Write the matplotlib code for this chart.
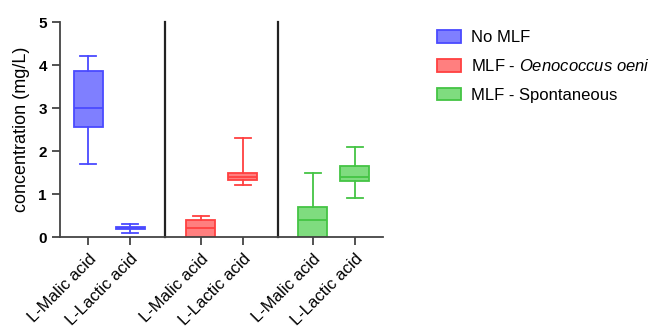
import matplotlib
matplotlib.use("Agg")
import matplotlib.pyplot as plt
from matplotlib.patches import Patch

plt.rcParams['font.family'] = ['Liberation Sans', 'DejaVu Sans']
plt.rcParams['mathtext.fontset'] = 'custom'
plt.rcParams['mathtext.rm'] = 'Liberation Sans'
plt.rcParams['mathtext.it'] = 'Liberation Sans:italic'

categories = ["L-Malic acid", "L-Lactic acid"] * 3
groups = ["No MLF", "MLF - $\\it{Oenococcus\\ oeni}$", "MLF - Spontaneous"]
# whislo, q1, med, q3, whishi
stats_vals = [
    [1.7, 2.55, 3.0, 3.85, 4.2],
    [0.1, 0.18, 0.2, 0.24, 0.3],
    [0.0, 0.0, 0.2, 0.4, 0.5],
    [1.2, 1.32, 1.4, 1.5, 2.3],
    [0.0, 0.0, 0.4, 0.7, 1.5],
    [0.9, 1.3, 1.4, 1.65, 2.1],
]
positions = [0, 1, 2.67, 3.67, 5.33, 6.33]
separators = [1.835, 4.5]
face_colors = ["#7f7fff", "#ff7f7f", "#7fdc7f"]
edge_colors = ["#4a4aff", "#ff4040", "#44c444"]

fig = plt.figure(figsize=(6.6, 3.29), dpi=100)
ax = fig.add_axes([0.091, 0.2796, 0.489, 0.6534])

for i, (s, p) in enumerate(zip(stats_vals, positions)):
    g = i // 2
    st = dict(whislo=s[0], q1=s[1], med=s[2], q3=s[3], whishi=s[4], fliers=[])
    ec = edge_colors[g]
    ax.bxp([st], positions=[p], widths=0.68, patch_artist=True, showfliers=False,
           boxprops=dict(facecolor=face_colors[g], edgecolor=ec, linewidth=1.3),
           medianprops=dict(color=ec, linewidth=1.3),
           whiskerprops=dict(color=ec, linewidth=1.3),
           capprops=dict(color=ec, linewidth=1.3), capwidths=0.38)

for x in separators:
    ax.plot([x, x], [0, 5], color="#222222", linewidth=1.6, clip_on=False)

ax.set_xlim(-0.67, 7.0)
ax.set_ylim(0, 5)
ax.set_yticks([0, 1, 2, 3, 4, 5])
ax.set_yticklabels(["0", "1", "2", "3", "4", "5"], fontweight="bold", fontsize=11)
ax.set_xticks(positions)
ax.set_xticklabels(categories, rotation=45, ha="right", rotation_mode="anchor", fontsize=12)
ax.tick_params(axis='x', length=6, width=1.3, color="#444444", pad=4)
ax.tick_params(axis='y', length=6, width=1.3, color="#444444")
for sp in ["top", "right"]:
    ax.spines[sp].set_visible(False)
for sp in ["left", "bottom"]:
    ax.spines[sp].set_linewidth(1.3)
    ax.spines[sp].set_color("#444444")
ax.set_ylabel("concentration (mg/L)", fontsize=13, labelpad=6)

handles = [Patch(facecolor=face_colors[i], edgecolor=edge_colors[i], linewidth=1.3, label=groups[i])
           for i in range(3)]
fig.legend(handles=handles, loc="upper left", bbox_to_anchor=(0.64, 0.955), frameon=False,
           fontsize=12, handlelength=1.4, handleheight=0.8, labelspacing=0.8, handletextpad=0.6)

fig.savefig("out.png", dpi=100)
